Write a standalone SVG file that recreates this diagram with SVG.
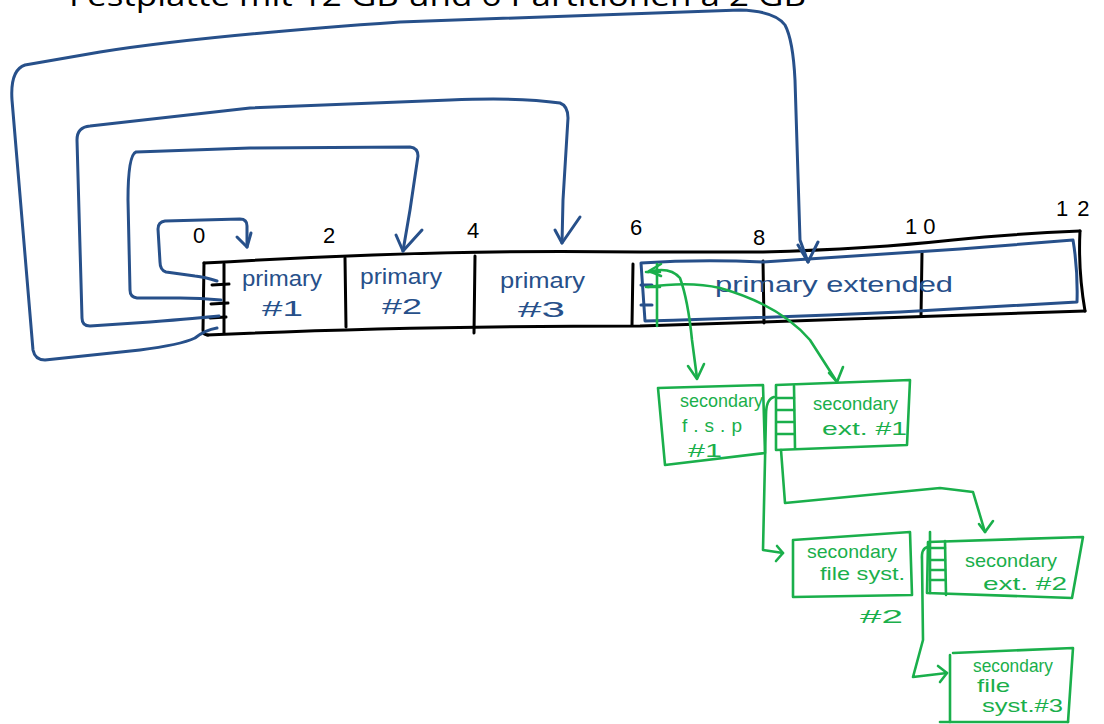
<svg xmlns="http://www.w3.org/2000/svg" width="1104" height="724" viewBox="0 0 1104 724">
<style>
.k{stroke:#000;stroke-width:3;fill:none;stroke-linecap:round;stroke-linejoin:round}
.b{stroke:#27508a;stroke-width:3;fill:none;stroke-linecap:round;stroke-linejoin:round}
.g{stroke:#1aaf4b;stroke-width:2.6;fill:none;stroke-linecap:round;stroke-linejoin:round}
.tb{font-family:"Liberation Sans","Noto Sans",sans-serif;fill:#27508a;font-size:22px}
.tg{font-family:"Liberation Sans","Noto Sans",sans-serif;fill:#1aaf4b;font-size:19px}
.tk{font-family:"Liberation Sans","Noto Sans",sans-serif;fill:#000;font-size:22px}
.tt{font-family:"Open Sans","Liberation Sans",sans-serif;fill:#000;font-size:30px}
</style>
<rect width="1104" height="724" fill="#fff"/>
<text class="tt" x="69" y="6" textLength="737" lengthAdjust="spacingAndGlyphs">Festplatte mit 12 GB und 6 Partitionen à 2 GB</text>

<g id="disk">
<path class="k" d="M204,263 Q290,258 373,255 Q500,250 640,252 L763,252 Q870,249 953,240 Q1010,234 1080,231"/>
<path class="k" d="M207,335 Q400,326 640,326 L763,322 Q900,318 1085,311"/>
<path class="k" d="M204,263 L203,330 Q203,335 208,335"/>
<path class="k" d="M1080,231 Q1078,270 1085,311"/>
<path class="k" d="M224,264 L224,333"/>
<path class="k" d="M212,285 L229,284 M211,304 L228,303 M210,318 L226,317"/>
<path class="k" d="M345,258 L346,327"/>
<path class="k" d="M475,256 L474,333"/>
<path class="k" d="M633,264 L632,325"/>
<path class="k" d="M763,261 L764,323"/>
<path class="k" d="M922,253 L921,316"/>
<text class="tk" x="193" y="243">0</text>
<text class="tk" x="323" y="243">2</text>
<text class="tk" x="467" y="238">4</text>
<text class="tk" x="630" y="235">6</text>
<text class="tk" x="753" y="245">8</text>
<text class="tk" x="905" y="234" letter-spacing="6">10</text>
<text class="tk" x="1056" y="216" letter-spacing="9">12</text>
</g>

<g id="primary1">
<text class="tb" x="242" y="286" textLength="80" lengthAdjust="spacingAndGlyphs">primary</text>
<text class="tb" x="262" y="316" textLength="41" lengthAdjust="spacingAndGlyphs">#1</text>
</g>
<g id="primary2">
<text class="tb" x="360" y="284" textLength="82" lengthAdjust="spacingAndGlyphs">primary</text>
<text class="tb" x="382" y="314" textLength="40" lengthAdjust="spacingAndGlyphs">#2</text>
</g>
<g id="primary3">
<text class="tb" x="500" y="288" textLength="85" lengthAdjust="spacingAndGlyphs">primary</text>
<text class="tb" x="518" y="317" textLength="47" lengthAdjust="spacingAndGlyphs">#3</text>
</g>

<g id="extended">
<path class="b" d="M641,263 Q700,259 763,262 Q860,256 960,249 L1073,240 Q1078,270 1077,302 L900,312 Q760,318 645,321 L641,263"/>
<path class="b" d="M641,285 L652,285 M641,305 L652,305"/>
<text class="tb" x="715" y="292" font-size="26" textLength="238" lengthAdjust="spacingAndGlyphs">primary extended</text>
<path class="g" d="M657,264 L657,326"/>
<path class="g" d="M646,272 L660,272 M646,287 L660,287"/>
<path class="g" d="M661,264 L649,271 L661,276"/>
</g>

<g id="sec-fs1">
<path class="g" d="M658,388 L763,385 L765,453 L665,465 Z"/>
<text class="tg" x="680" y="407" textLength="83" lengthAdjust="spacingAndGlyphs">secondary</text>
<text class="tg" x="682" y="432" textLength="60" lengthAdjust="spacing">f.s.p</text>
<text class="tg" x="688" y="457" textLength="34" lengthAdjust="spacingAndGlyphs">#1</text>
</g>

<g id="sec-ext1">
<path class="g" d="M776,385 L910,380 L907,445 L776,450 Z"/>
<path class="g" d="M794,386 L795,448"/>
<path class="g" d="M777,398 L794,398 M777,410 L794,410 M777,422 L794,422 M777,434 L794,434"/>
<text class="tg" x="813" y="410" textLength="85" lengthAdjust="spacingAndGlyphs">secondary</text>
<text class="tg" x="822" y="435" textLength="85" lengthAdjust="spacingAndGlyphs">ext. #1</text>
</g>

<g id="sec-fs2">
<path class="g" d="M793,540 L910,532 L912,595 L793,597 Z"/>
<text class="tg" x="807" y="558" textLength="90" lengthAdjust="spacingAndGlyphs">secondary</text>
<text class="tg" x="820" y="580" textLength="85" lengthAdjust="spacingAndGlyphs">file syst.</text>
<text class="tg" x="860" y="623" font-size="24" textLength="43" lengthAdjust="spacingAndGlyphs">#2</text>
</g>

<g id="sec-ext2">
<path class="g" d="M928,542 L1083,537 L1072,598 L927,593 Z"/>
<path class="g" d="M930,532 L930,593"/>
<path class="g" d="M945,541 L946,595"/>
<path class="g" d="M930,548 L945,548 M930,560 L945,560 M930,570 L945,570 M930,580 L945,580"/>
<text class="tg" x="965" y="567" textLength="92" lengthAdjust="spacingAndGlyphs">secondary</text>
<text class="tg" x="983" y="590" textLength="84" lengthAdjust="spacingAndGlyphs">ext. #2</text>
</g>

<g id="sec-fs3">
<path class="g" d="M953,653 L1073,648 L1068,722 M950,722 L950,655"/>
<path class="g" d="M940,722 L1068,722"/>
<text class="tg" x="973" y="672" textLength="80" lengthAdjust="spacingAndGlyphs">secondary</text>
<text class="tg" x="977" y="692" textLength="33" lengthAdjust="spacingAndGlyphs">file</text>
<text class="tg" x="982" y="712" font-size="22" textLength="81" lengthAdjust="spacingAndGlyphs">syst.#3</text>
</g>

<g id="connectors">
<path class="b" d="M217,281 Q205,277 195,276 L166,272 Q160,270 160,262 L158,229 Q158,222 165,221 L240,219 Q247,219 247,226 L247,247"/>
<path class="b" d="M237,237 L247,247 L251,233"/>
<path class="b" d="M221,300 Q200,298 180,298 L137,298 Q130,297 130,290 L128,200 Q128,155 136,152 L250,148 L410,147 Q418,148 418,156 L410,210 L403,251"/>
<path class="b" d="M396,235 L403,251 L422,230"/>
<path class="b" d="M219,316 Q200,318 150,322 L90,326 Q82,326 82,318 L77,140 Q77,127 90,126 L250,108 L450,100 Q520,97 560,103 Q568,106 568,118 L563,200 L562,243"/>
<path class="b" d="M555,230 L562,243 L580,217"/>
<path class="b" d="M217,328 Q205,330 195,338 Q180,345 140,350 L45,360 Q35,360 33,350 L12,100 Q10,70 25,65 L100,52 Q200,36 400,22 L740,10 Q775,11 785,25 Q793,40 795,80 L800,240 L808,262"/>
<path class="b" d="M798,245 L808,262 L818,242"/>
<path class="g" d="M648,272 Q670,266 680,278 Q688,300 692,340 L697,378"/>
<path class="g" d="M688,366 L697,379 L704,364"/>
<path class="g" d="M648,287 Q690,281 720,288 Q780,305 810,340 L837,382"/>
<path class="g" d="M829,373 L837,382 L843,367"/>
<path class="g" d="M774,397 Q766,399 766,415 L763,550 L783,553"/>
<path class="g" d="M777,546 L783,553 L776,561"/>
<path class="g" d="M781,450 L785,503 L940,488 L973,492 L985,532"/>
<path class="g" d="M979,524 L985,532 L993,521"/>
<path class="g" d="M928,547 Q921,548 922,560 L923,640 L913,677 L947,673"/>
<path class="g" d="M938,666 L947,673 L940,682"/>
</g>
</svg>
